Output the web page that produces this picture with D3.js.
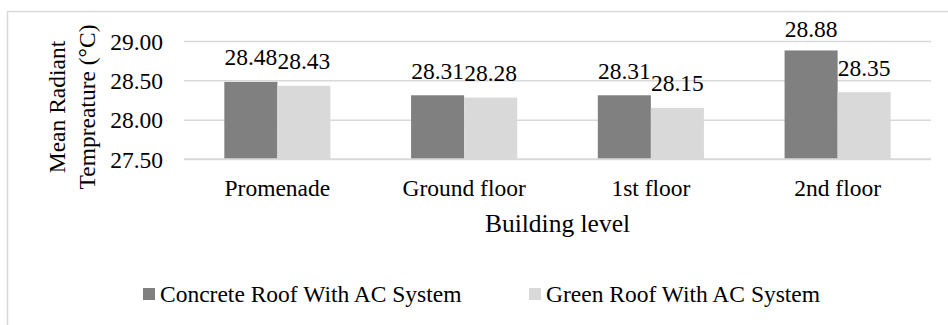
<!DOCTYPE html>
<html>
<head>
<meta charset="utf-8">
<script src="https://cdn.jsdelivr.net/npm/d3@7"></script>
<style>
  html, body { margin: 0; padding: 0; background: #fff; }
  svg { display: block; }
  svg text { font-family: "Liberation Serif", Tinos, "Times New Roman", Times, "Nimbus Roman", "DejaVu Serif", serif !important; fill: #000; }
</style>
</head>
<body>
<svg id="chart" width="948" height="325"></svg>
<script>
// Building levels along the x axis
const categories = ["Promenade", "Ground floor", "1st floor", "2nd floor"];
// Series names
const seriesNames = ["Concrete Roof With AC System", "Green Roof With AC System"];
// Mean radiant temperature (°C) per level
const concreteValues = [28.48, 28.31, 28.31, 28.88];
const greenValues = [28.43, 28.28, 28.15, 28.35];
// Y axis ticks
const yTicks = [27.50, 28.00, 28.50, 29.00];
const seriesColors = ["#808080", "#d9d9d9"];

const svg = d3.select("#chart");
const W = 948, H = 325;
const plot = { left: 184, right: 931, top: 41, bottom: 159 };
const fontSize = 23.5;
const serif = '"Liberation Serif", Tinos, "Times New Roman", Times, "Nimbus Roman", "DejaVu Serif", serif';

// Outer chart frame (runs off the right and bottom edges)
svg.append("rect")
  .attr("x", 7.5).attr("y", 11.5)
  .attr("width", W + 20).attr("height", H + 20)
  .attr("fill", "#fff").attr("stroke", "#d9d9d9").attr("stroke-width", 1.5);

const x0 = d3.scaleBand().domain(categories).range([plot.left, plot.right]).padding(0);
const x1 = d3.scaleBand().domain(seriesNames).range([0, x0.bandwidth()])
  .paddingInner(0).paddingOuter(0.76);
const y = d3.scaleLinear().domain([27.5, 29]).range([plot.bottom, plot.top]);

// Gridlines and tick labels
const yAxis = d3.axisLeft(y)
  .tickValues(yTicks)
  .tickFormat(d3.format(".2f"))
  .tickSize(-(plot.right - plot.left))
  .tickPadding(21);
const gy = svg.append("g").attr("transform", `translate(${plot.left},0)`).call(yAxis);
gy.attr("font-family", serif).attr("font-size", fontSize);
gy.select(".domain").remove();
gy.selectAll(".tick line").attr("stroke", "#d9d9d9").attr("stroke-width", 1.5);
gy.selectAll(".tick text")
  .attr("fill", "#000")
  .attr("dy", "0.34em");

const root = svg.append("g").attr("font-family", serif);

// Bars
const rows = categories.map((c, i) => ({
  cat: c,
  vals: [concreteValues[i], greenValues[i]]
}));
const groups = root.append("g").selectAll("g")
  .data(rows).join("g")
  .attr("transform", d => `translate(${x0(d.cat)},0)`);

groups.selectAll("rect")
  .data(d => d.vals.map((v, j) => ({ v, s: seriesNames[j], j })))
  .join("rect")
  .attr("x", d => x1(d.s))
  .attr("y", d => y(d.v))
  .attr("width", x1.bandwidth())
  .attr("height", d => y(27.5) - y(d.v))
  .attr("fill", d => seriesColors[d.j]);

// Data labels
groups.selectAll("text.val")
  .data(d => d.vals.map((v, j) => ({ v, s: seriesNames[j], j })))
  .join("text")
  .attr("class", "val")
  .attr("x", d => x1(d.s) + x1.bandwidth() / 2)
  .attr("y", d => Math.max(y(d.v) - 16.5, 37))
  .attr("text-anchor", "middle")
  .attr("font-size", fontSize)
  .text(d => d3.format(".2f")(d.v));

// Category axis line
root.append("line")
  .attr("x1", plot.left).attr("x2", plot.right)
  .attr("y1", y(27.5)).attr("y2", y(27.5))
  .attr("stroke", "#d9d9d9").attr("stroke-width", 1.5);

// Category labels
root.append("g").selectAll("text")
  .data(categories).join("text")
  .attr("x", d => x0(d) + x0.bandwidth() / 2)
  .attr("y", 196)
  .attr("text-anchor", "middle")
  .attr("font-size", fontSize)
  .text(d => d);

// X axis title
root.append("text")
  .attr("x", (plot.left + plot.right) / 2)
  .attr("y", 232)
  .attr("text-anchor", "middle")
  .attr("font-size", 25.5)
  .text("Building level");

// Y axis title (two lines)
const yTitle = root.append("text")
  .attr("transform", `translate(0,107) rotate(-90)`)
  .attr("text-anchor", "middle")
  .attr("font-size", fontSize);
yTitle.append("tspan").attr("x", 0).attr("y", 65).text("Mean Radiant");
yTitle.append("tspan").attr("x", 0).attr("y", 95).text("Tempreature (°C)");

// Legend
const legendX = [143, 529];
const legend = root.append("g").selectAll("g")
  .data(seriesNames).join("g")
  .attr("transform", (d, i) => `translate(${legendX[i]},288)`);
legend.append("rect")
  .attr("width", 12).attr("height", 12)
  .attr("fill", (d, i) => seriesColors[i]);
legend.append("text")
  .attr("x", 17).attr("y", 6)
  .attr("dy", "0.34em")
  .attr("font-size", fontSize)
  .text(d => d);
</script>
</body>
</html>
